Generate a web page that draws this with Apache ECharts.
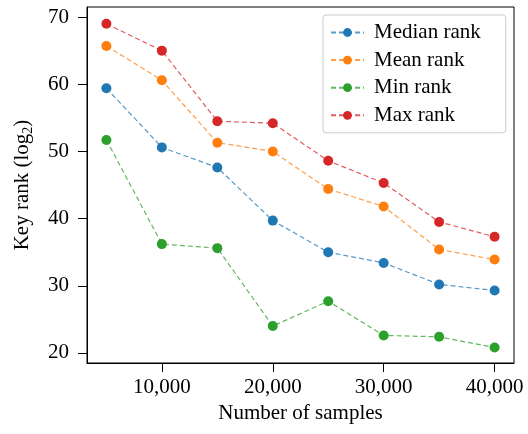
<!DOCTYPE html>
<html>
<head>
<meta charset="utf-8">
<script src="https://cdn.jsdelivr.net/npm/echarts@6/dist/echarts.min.js"></script>
<style>
html,body{margin:0;padding:0;background:#fff;}
#chart{width:528px;height:434px;}
</style>
</head>
<body>
<div id="chart"></div>
<script>
const samples = [5000, 10000, 15000, 20000, 25000, 30000, 35000, 40000];
const medianRank = [59.4, 50.6, 47.6, 39.7, 35.0, 33.4, 30.2, 29.3];
const meanRank   = [65.7, 60.6, 51.3, 50.0, 44.4, 41.8, 35.4, 33.9];
const minRank    = [51.7, 36.2, 35.6, 24.0, 27.7, 22.6, 22.4, 20.8];
const maxRank    = [69.0, 65.0, 54.5, 54.2, 48.6, 45.3, 39.5, 37.3];
const xTicks = [10000, 20000, 30000, 40000];
const yTicks = [20, 30, 40, 50, 60, 70];

const FONT = '"Liberation Serif", "Times New Roman", serif';
const FS = 21;

function mk(name, values, color) {
  return {
    name: name,
    type: 'line',
    data: samples.map((x, i) => [x, values[i]]),
    symbol: 'circle',
    symbolSize: 10,
    itemStyle: {color: color},
    lineStyle: {color: color, width: 1.2, type: [5, 3], opacity: 0.75},
    emphasis: {disabled: true},
    animation: false
  };
}

const chart = echarts.init(document.getElementById('chart'), null, {renderer: 'canvas'});
chart.setOption({
  backgroundColor: '#fff',
  animation: false,
  grid: {left: 87, right: 14, top: 7, bottom: 71, show: true, borderColor: '#000', borderWidth: 1, backgroundColor: 'transparent'},
  legend: {
    orient: 'vertical',
    left: 323, top: 15,
    padding: [7, 25, 7, 7],
    itemWidth: 33, itemHeight: 11, itemGap: 6.6,
    borderColor: '#cccccc', borderWidth: 1, borderRadius: 3,
    backgroundColor: 'rgba(255,255,255,0.8)',
    textStyle: {fontFamily: FONT, fontSize: FS, color: '#000', padding: [0, 0, 0, 5]},
    data: ['Median rank', 'Mean rank', 'Min rank', 'Max rank']
  },
  xAxis: {
    type: 'value',
    min: 3250, max: 41750,
    name: 'Number of samples',
    nameLocation: 'middle',
    nameGap: 36,
    nameTextStyle: {fontFamily: FONT, fontSize: FS, color: '#000'},
    axisLine: {show: true, onZero: false, lineStyle: {color: '#000', width: 1}},
    axisTick: {show: true, length: 9, inside: false, customValues: xTicks, lineStyle: {color: '#000', width: 1}},
    axisLabel: {customValues: xTicks, margin: 14, fontFamily: FONT, fontSize: FS, color: '#000',
      formatter: v => Math.round(v).toLocaleString('en-US')},
    splitLine: {show: false}
  },
  yAxis: {
    type: 'value',
    min: 18.5, max: 71.5,
    name: '{a|Key rank (log}{s|2}{a|)}',
    nameLocation: 'middle',
    nameGap: 52,
    nameRotate: 90,
    nameTextStyle: {
      fontFamily: FONT, fontSize: FS, color: '#000',
      rich: {
        a: {fontFamily: FONT, fontSize: FS, color: '#000', lineHeight: 26},
        s: {fontFamily: FONT, fontSize: 14, color: '#000', lineHeight: 14, verticalAlign: 'bottom'}
      }
    },
    axisLine: {show: true, onZero: false, lineStyle: {color: '#000', width: 1}},
    axisTick: {show: true, length: 9, inside: false, customValues: yTicks, lineStyle: {color: '#000', width: 1}},
    axisLabel: {customValues: yTicks, margin: 18, fontFamily: FONT, fontSize: FS, color: '#000'},
    splitLine: {show: false}
  },
  series: [
    mk('Median rank', medianRank, '#1f77b4'),
    mk('Mean rank', meanRank, '#ff7f0e'),
    mk('Min rank', minRank, '#2ca02c'),
    mk('Max rank', maxRank, '#d62728')
  ]
});
</script>
</body>
</html>
